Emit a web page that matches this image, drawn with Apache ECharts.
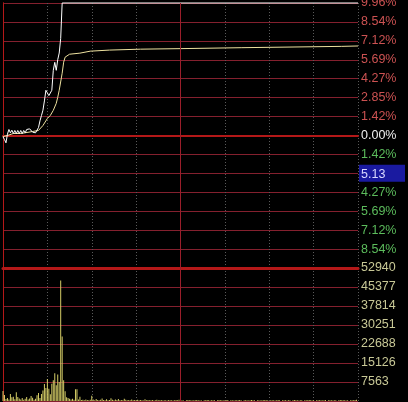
<!DOCTYPE html>
<html>
<head>
<meta charset="utf-8">
<script src="https://cdn.jsdelivr.net/npm/echarts@6/dist/echarts.min.js"></script>
<style>
  html, body { margin: 0; padding: 0; background: #000; }
  #chart { width: 408px; height: 402px; }
</style>
</head>
<body>
<div id="chart"></div>
<script>
// price line: minute index -> % change from previous close
const priceMinutes = [0, 1, 2, 3, 4, 5, 6, 7, 8, 9, 10, 11, 12, 13, 14, 15, 16, 17, 18, 19, 20,
  21, 22, 23, 24, 25, 26, 27, 28, 29, 30, 31, 32, 33, 34, 35, 36, 37, 38, 39, 40, 240]
const pricePct = [-0.1, -0.3, -0.55, 0.1, 0.45, 0.2, 0.4, 0.15, 0.38, 0.15, 0.38, 0.15, 0.38, 0.15, 0.38, 0.2, 0.45, 0.55, 0.5, 0.55, 0.25,
  0.2, 0.2, 0.3, 0.6, 1.1, 1.5, 1.9, 2.6, 3.4, 3.2, 3.0, 2.9, 3.4, 4.9, 5.5, 4.9, 5.7, 6.2, 7.3, 9.96, 9.96]

// average price line
const avgMinutes = [0, 3, 7, 12, 20, 24, 27, 30, 32, 34, 36, 37, 38, 40, 41, 42, 45, 52, 59, 72, 93, 120, 161, 229, 240]
const avgPct = [-0.08, 0, 0.15, 0.15, 0.3, 0.38, 0.75, 1.28, 1.51, 1.89, 2.42, 2.87, 3.4, 4.68, 5.51, 5.89, 6.11, 6.19, 6.34, 6.42, 6.49, 6.53, 6.6, 6.7, 6.73]

// volume per minute (240 minutes)
const volume = [
  4000, 2400, 800, 1200, 600, 2800, 1500, 1700, 700, 3500,
  1600, 1000, 600, 1200, 500, 900, 1600, 600, 1000, 2000,
  1300, 500, 900, 2300, 3200, 1200, 2800, 4200, 6800, 5200,
  8800, 4900, 2700, 6900, 8300, 11000, 6300, 10500, 7600, 48000,
  25700, 8300, 3900, 1500, 1200, 900, 600, 900, 500, 4700,
  4700, 600, 1700, 400, 500, 300, 600, 400, 300, 500,
  2100, 600, 300, 800, 400, 300, 500, 1000, 400, 300,
  700, 300, 400, 1100, 500, 300, 600, 400, 800, 300,
  400, 300, 900, 500, 300, 400, 300, 600, 300, 400,
  300, 500, 300, 400, 300, 200, 700, 300, 400, 300,
  300, 400, 200, 300, 500, 300, 300, 400, 200, 300,
  300, 200, 400, 300, 300, 200, 300, 400, 300, 500,
  300, 300, 200, 0, 300, 400, 300, 300, 200, 300,
  300, 400, 300, 200, 300, 0, 300, 300, 400, 300,
  200, 300, 300, 300, 0, 300, 400, 300, 300, 200,
  300, 300, 400, 0, 300, 300, 200, 300, 300, 300,
  400, 300, 0, 300, 300, 300, 200, 300, 400, 300,
  300, 0, 300, 300, 200, 300, 300, 400, 300, 300,
  0, 300, 300, 300, 200, 300, 400, 300, 0, 300,
  300, 300, 200, 300, 300, 0, 300, 400, 300, 300,
  200, 300, 300, 0, 300, 300, 300, 400, 300, 200,
  300, 0, 300, 300, 300, 300, 200, 300, 400, 0,
  300, 300, 300, 200, 300, 300, 0, 300, 400, 300,
  300, 300, 200, 300, 0, 300, 300, 300, 400, 500
]

// right-hand tick labels, bottom to top
const priceTickLabels = ['', '8.54%', '7.12%', '5.69%', '4.27%', '5.13', '1.42%', '0.00%',
  '1.42%', '2.85%', '4.27%', '5.69%', '7.12%', '8.54%', '9.96%']
const volTickLabels = ['', '7563', '15126', '22688', '30251', '37814', '45377', '52940']

const PCT_MAX = 9.96
const PCT_STEP = PCT_MAX / 7
const VOL_MAX = 52940
const VOL_STEP = VOL_MAX / 7

const GRID = '#84202e'
const RED = '#b41818'
const DOT = '#5a5a5a'
const FONT = 'Liberation Sans'

const chart = echarts.init(document.getElementById('chart'))

const priceIdx = v => Math.round(v / PCT_STEP) + 7
const volIdx = v => Math.round(v / VOL_STEP)

const xBase = {
  type: 'value', min: 0, max: 240, interval: 30,
  axisTick: { show: false },
  axisLabel: { show: false },
  splitLine: { show: true, lineStyle: { color: DOT, type: [1, 2] } },
}
const leftBorder = {
  type: 'value', position: 'left',
  axisLine: { show: true, lineStyle: { color: RED } },
  axisTick: { show: false }, axisLabel: { show: false }, splitLine: { show: false },
}
const midLine = {
  silent: true, symbol: ['none', 'none'], label: { show: false },
  lineStyle: { color: '#9a1e2a', type: 'solid', width: 1 },
  data: [{ xAxis: 120 }],
}

chart.setOption({
  backgroundColor: '#000',
  animation: false,
  grid: [
    { left: 3, right: 50, top: 3, height: 265, outerBoundsMode: 'none' },
    { left: 3, right: 50, top: 268, height: 133, outerBoundsMode: 'none' },
  ],
  xAxis: [
    { ...xBase, gridIndex: 0, axisLine: { show: true, onZero: true, lineStyle: { color: RED, width: 2 } } },
    { ...xBase, gridIndex: 1, position: 'top', axisLine: { show: true, onZero: false, lineStyle: { color: RED, width: 3 } } },
  ],
  yAxis: [
    {
      type: 'value', gridIndex: 0, position: 'right',
      min: -PCT_MAX, max: PCT_MAX, interval: PCT_STEP,
      axisLine: { show: true, lineStyle: { color: RED } },
      axisTick: { show: false },
      splitLine: { lineStyle: { color: GRID } },
      axisLabel: {
        margin: 1, fontFamily: FONT, fontSize: 12.5,
        showMinLabel: true, showMaxLabel: true,
        color: v => {
          const i = priceIdx(v)
          return i > 7 ? '#cc5252' : i === 7 ? '#f0f0f0' : '#5cbc5c'
        },
        formatter: v => {
          const i = priceIdx(v)
          const t = priceTickLabels[i] || ''
          if (!t) return ''
          return t.indexOf('%') < 0 ? '{hl|' + t + '}' : '{n|' + t + '}'
        },
        rich: {
          n: { padding: [0, 0, 0, 2] },
          hl: {
            backgroundColor: '#1a1aa0', color: '#d8d8ff',
            width: 41, padding: [3, 3, 1, 2],
            fontFamily: FONT, fontSize: 12.5,
          },
        },
      },
    },
    { ...leftBorder, gridIndex: 0, min: -PCT_MAX, max: PCT_MAX },
    {
      type: 'value', gridIndex: 1, position: 'right',
      min: 0, max: VOL_MAX, interval: VOL_STEP,
      axisLine: { show: true, lineStyle: { color: RED } },
      axisTick: { show: false },
      splitLine: { lineStyle: { color: GRID } },
      axisLabel: {
        margin: 3, fontFamily: FONT, fontSize: 12.5, color: '#c8c896',
        showMinLabel: true, showMaxLabel: true,
        formatter: v => volTickLabels[volIdx(v)] || '',
      },
    },
    { ...leftBorder, gridIndex: 1, min: 0, max: VOL_MAX },
  ],
  series: [
    {
      type: 'line', xAxisIndex: 0, yAxisIndex: 0,
      data: avgMinutes.map((m, i) => [m, avgPct[i]]),
      symbol: 'none', clip: false,
      lineStyle: { color: '#eee2a0', width: 1 },
      markLine: midLine,
    },
    {
      type: 'line', xAxisIndex: 0, yAxisIndex: 0,
      data: priceMinutes.map((m, i) => [m, pricePct[i]]),
      symbol: 'none', clip: false,
      lineStyle: { color: '#ffffff', width: 1 },
    },
    {
      type: 'bar', xAxisIndex: 1, yAxisIndex: 2,
      data: volume.map((v, i) => [i, v]),
      barWidth: 1,
      itemStyle: { color: '#d4cc66' },
      markLine: midLine,
    },
  ],
})
</script>
</body>
</html>
